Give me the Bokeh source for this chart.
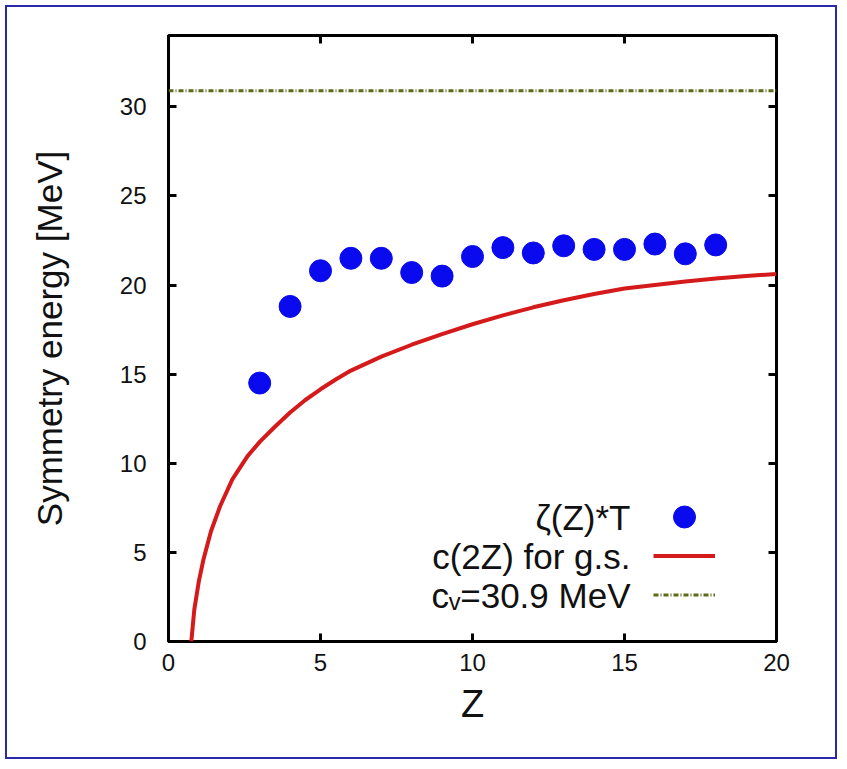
from bokeh.plotting import figure
from bokeh.models import (Range1d, LinearAxis, Legend, LegendItem, Label,
                          FixedTicker, CustomJSTickFormatter)
from bokeh.embed import file_html
from bokeh.resources import INLINE

# ---- data ----
z_points = [3, 4, 5, 6, 7, 8, 9, 10, 11, 12, 13, 14, 15, 16, 17, 18]
zeta_T = [14.5, 18.8, 20.8, 21.5, 21.5, 20.7, 20.5, 21.6, 22.1, 21.8,
          22.2, 22.0, 22.0, 22.3, 21.75, 22.25]

z_curve = [0.75, 0.85, 1.0, 1.15, 1.4, 1.7, 2.1, 2.6, 3.0, 3.5, 4.0, 4.5,
           5.0, 5.5, 6.0, 7.0, 8.0, 9.0, 10.0, 11.0, 12.0, 13.0, 14.0,
           15.0, 16.0, 17.0, 18.0, 19.0, 20.0]
c_gs = [0.0, 1.8, 3.4, 4.6, 6.2, 7.6, 9.1, 10.4, 11.2, 12.05, 12.85, 13.55,
        14.15, 14.7, 15.2, 15.98, 16.65, 17.25, 17.8, 18.3, 18.75, 19.15,
        19.5, 19.8, 20.0, 20.2, 20.37, 20.5, 20.62]

cv_z = [0, 20]
cv_val = [30.9, 30.9]

x_ticks = [0, 5, 10, 15, 20]
y_ticks = [0, 5, 10, 15, 20, 25, 30]
legend_labels = ["ζ(Z)*T", "c(2Z) for g.s.", "cᵥ=30.9 MeV"]

FONT = "Liberation Sans"
BLUE = "#0a0aee"
RED = "#d41a1a"
GREEN = "#5c6b1a"

p = figure(width=832, height=754,
           x_range=Range1d(0, 20), y_range=Range1d(0, 34),
           output_backend="svg", toolbar_location=None,
           min_border_left=161, min_border_right=63,
           min_border_top=28, min_border_bottom=120,
           x_axis_label="Z", y_axis_label="Symmetry energy [MeV]")
p.styles = {"border": "2px solid #2a2aa8", "margin": "5px"}
p.background_fill_color = "white"
p.border_fill_color = "white"
p.outline_line_color = "black"
p.outline_line_width = 3
p.xgrid.visible = False
p.ygrid.visible = False

# data
r_line = p.line(z_curve, c_gs, line_color=RED, line_width=4, line_join="round")
r_cv = p.line(cv_z, cv_val, line_color=GREEN, line_width=3, line_dash="5 2 1 2")
r_pts = p.scatter(z_points, zeta_T, size=22, fill_color=BLUE, line_color=BLUE)

# mirror axes
p.add_layout(LinearAxis(), "above")
p.add_layout(LinearAxis(), "right")

for ax in p.xaxis:
    ax.ticker = FixedTicker(ticks=x_ticks)
for ax in p.yaxis:
    ax.ticker = FixedTicker(ticks=y_ticks)

for ax in p.axis:
    ax.axis_line_color = None
    ax.major_tick_in = 8
    ax.major_tick_out = 0
    ax.major_tick_line_width = 3
    ax.major_tick_line_color = "black"
    ax.minor_tick_line_color = None
    ax.major_label_text_font = FONT
    ax.major_label_text_font_size = "24px"
    ax.major_label_text_color = "#111111"
    ax.axis_label_text_font = FONT
    ax.axis_label_text_font_style = "normal"
    ax.axis_label_text_color = "#111111"

p.above[0].formatter = CustomJSTickFormatter(code="return ''")
p.right[0].formatter = CustomJSTickFormatter(code="return ''")

xb = p.below[0]
xb.major_label_standoff = 12
xb.axis_label_standoff = 9
xb.axis_label_text_font_size = "38px"
yl = p.left[0]
yl.major_label_standoff = 22
yl.axis_label_standoff = 48
yl.axis_label_text_font_size = "35px"

# legend: samples on the right, texts right-aligned to their left
common = dict(glyph_width=62, label_width=0, label_standoff=0,
              label_text_font_size="10px", spacing=0, padding=0, margin=0,
              border_line_color=None, background_fill_alpha=0)
legend_pts = Legend(items=[LegendItem(label=" ", renderers=[r_pts])],
                    location=(485, 97), glyph_height=55, label_height=55,
                    **common)
legend_lines = Legend(items=[LegendItem(label=" ", renderers=[r_line]),
                             LegendItem(label=" ", renderers=[r_cv])],
                      location=(485, 27), glyph_height=39, label_height=39,
                      **common)
p.add_layout(legend_pts, "center")
p.add_layout(legend_lines, "center")

row_y = [124.5, 85, 46.5]
for txt, yy in zip(legend_labels, row_y):
    p.add_layout(Label(x=462, y=yy, x_units="screen", y_units="screen",
                       text=txt, text_align="right", text_baseline="middle",
                       text_font=FONT, text_font_size="35px",
                       text_color="#111111"))

open("out.html", "w").write(file_html(p, INLINE))
